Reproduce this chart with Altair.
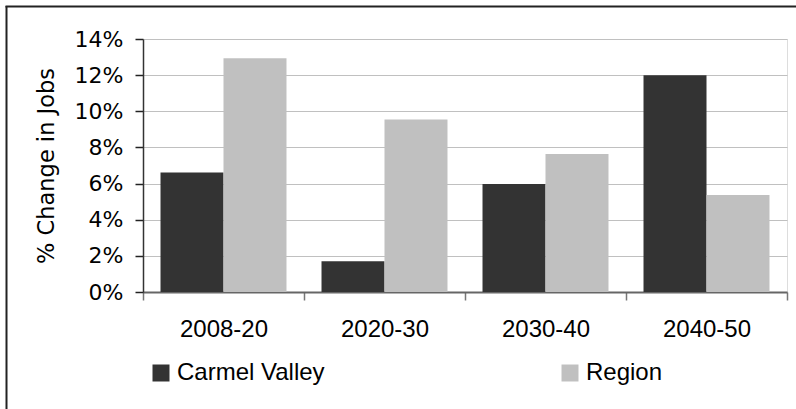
import altair as alt
import pandas as pd

periods = ["2008-20", "2020-30", "2030-40", "2040-50"]
series = ["Carmel Valley", "Region"]
carmel_valley = [6.61, 1.70, 5.98, 12.0]
region = [12.93, 9.54, 7.64, 5.37]
y_ticks = [0, 2, 4, 6, 8, 10, 12, 14]
colors = ["#333333", "#c0c0c0"]

rows = []
for p, cv, rg in zip(periods, carmel_valley, region):
    rows.append({"period": p, "series": series[0], "value": cv})
    rows.append({"period": p, "series": series[1], "value": rg})
df = pd.DataFrame(rows)

bars = alt.Chart(df).mark_bar(strokeWidth=0).encode(
    x=alt.X("period:N", sort=periods,
            scale=alt.Scale(paddingInner=0, paddingOuter=0),
            axis=alt.Axis(title=None, labelAngle=0, labelFont="Liberation Sans",
                          labelFontSize=24, labelColor="#000000", labelPadding=17,
                          tickBand="extent", tickSize=8, tickColor="#777777",
                          tickWidth=1.5, domainColor="#666666", domainWidth=2,
                          grid=False)),
    xOffset=alt.XOffset("series:N", sort=series,
                        scale=alt.Scale(paddingInner=0, paddingOuter=0.278)),
    y=alt.Y("value:Q", scale=alt.Scale(domain=[0, 14], nice=False),
            axis=alt.Axis(title="% Change in Jobs", values=y_ticks,
                          labelExpr="datum.value + '%'",
                          labelFont="DejaVu Sans", labelFontSize=22,
                          labelColor="#000000", labelPadding=12,
                          tickSize=8, tickColor="#222222", tickWidth=1.5,
                          domainColor="#333333", domainWidth=1.5,
                          gridColor="#c0c0c0", gridWidth=1.2,
                          titleFont="DejaVu Sans", titleFontSize=22.5,
                          titleFontWeight="normal", titleColor="#000000",
                          titleX=-97, titleY=126.5, titleAlign="center",
                          titleBaseline="middle", titleAngle=270)),
    color=alt.Color("series:N", sort=series,
                    scale=alt.Scale(domain=series, range=colors),
                    legend=alt.Legend(title=None, orient="none",
                                      legendX=6, legendY=322,
                                      direction="horizontal", columns=2,
                                      columnPadding=233,
                                      symbolType="square", symbolSize=289,
                                      symbolStrokeWidth=0, symbolOpacity=1,
                                      labelFont="Liberation Sans",
                                      labelFontSize=24, labelColor="#000000",
                                      labelOffset=4, labelLimit=400,
                                      padding=0)),
)

frame_src = alt.Data(values=[{"k": 0}])
frame_left = alt.Chart(frame_src).mark_rule(color="#222222", strokeWidth=2).encode(
    x=alt.value(-136.5), y=alt.value(-33), y2=alt.value(380))
frame_top = alt.Chart(frame_src).mark_rule(color="#222222", strokeWidth=2).encode(
    x=alt.value(-137.5), x2=alt.value(660), y=alt.value(-32.5))

chart = alt.layer(bars, frame_left, frame_top).properties(
    width=644, height=253,
    padding={"left": 143, "top": 39, "right": 9, "bottom": 117},
    autosize=alt.AutoSizeParams(type="none"),
).configure_view(stroke=None).configure(background="white")

chart.save("out.html", embed_options={"renderer": "svg", "actions": False})
